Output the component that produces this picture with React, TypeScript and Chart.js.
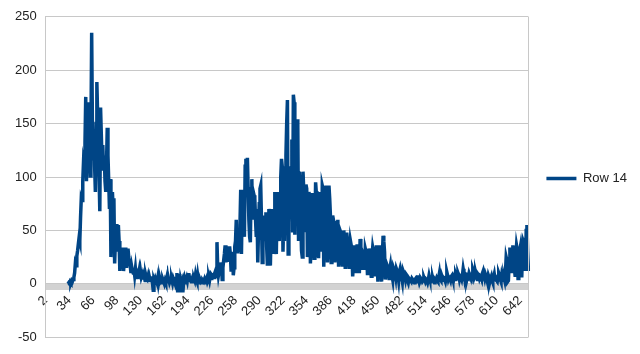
import React, { useEffect, useRef } from 'react';
import { Chart, registerables } from 'chart.js';

Chart.register(...registerables);

const SERIES_NAME = 'Row 14';
const FIRST_CATEGORY = 2;
const LABEL_STEP = 32;
const Y_MIN = -50;
const Y_MAX = 250;
const Y_STEP = 50;

// one value per category, starting at category 2
const values: (number | null)[] = [
  // 2-31: no data
  null, null, null, null, null, null, null, null, null, null,
  null, null, null, null, null, null, null, null, null, null,
  null, null, null, null, null, null, null, null, null, null,
  0, 1, 0, 2, 1, 3, 2,
  4, 6, 10, 19, 17, 26, 31,
  37, 43, 40, 62, 80, 78, 96,
  114, 110, 132, 175, 96, 170, 128,
  165, 120, 101, 140, 235, 150, 117,
  145, 110, 86, 150, 189, 160, 124,
  100, 68, 165, 140, 114, 130, 106,
  120, 96, 86, 110, 146, 120, 96,
  70, 98, 25, 60, 86, 70, 80,
  19, 40, 54, 56, 30, 55, 40,
  12, 25, 34, 20, 34, 12, 20,
  30, 34, 15, 22, 33, 25, 20,
  17, 10, 16, 12, 10, 14, 8,
  14, 6, 11, 9, 8, 12, 5,
  11, 6, 8, 4, 9, 7, 3,
  8, 5, 4, 7, 2, 6, 3,
  7, 3, 1, -6, 4, 2, 5,
  3, 1, 5, 0, 4, 5, 2,
  3, 1, 4, 2, 0, 3, 1,
  5, 8, 2, 4, 1, 3, 2,
  4, 1, 5, 3, 2, 0, 5,
  10, -8, 2, 9, -8, 4, 1,
  3, -8, 2, 5, 1, 4, 6,
  3, 8, 10, 5, 3, 2, 4,
  6, 2, 5, 3, 8, 4, 2,
  8, 3, 1, 4, 2, 3, 1,
  3, 2, 4, 1, 3, 5, 2,
  4, 6, 3, 7, 5, 8, 7,
  8, 6, 10, 12, 7, 39, 15,
  8, 12, 20, 10, 18, 4, 15,
  22, 28, 36, 20, 30, 35, 22,
  25, 35, 28, 13, 20, 30, 8,
  15, 35, 40, 60, 30, 45, 30,
  40, 55, 88, 28, 75, 88, 60,
  44, 110, 117, 100, 118, 90, 60,
  44, 39, 89, 98, 60, 70, 83,
  80, 60, 44, 70, 20, 50, 75,
  89, 92, 60, 20, 55, 64, 40,
  60, 67, 35, 17, 45, 70, 66,
  17, 50, 70, 55, 28, 60, 86,
  33, 28, 70, 86, 60, 40, 80,
  100, 117, 110, 30, 60, 40, 80,
  120, 150, 172, 28, 57, 90, 110,
  90, 135, 48, 177, 170, 46, 110,
  130, 154, 147, 40, 105, 90, 60,
  31, 25, 105, 88, 60, 50, 93,
  89, 25, 70, 86, 80, 19, 40,
  60, 85, 75, 24, 45, 95, 85,
  85, 30, 24, 60, 86, 80, 30,
  92, 89, 16, 50, 70, 92, 60,
  20, 40, 92, 80, 64, 20, 30,
  64, 60, 45, 20, 30, 59, 55,
  60, 16, 35, 50, 48, 30, 16,
  45, 50, 40, 14, 30, 48, 40,
  35, 14, 25, 40, 36, 30, 7,
  20, 36, 30, 20, 10, 37, 30,
  25, 10, 42, 35, 13, 30, 28,
  20, 13, 33, 30, 25, 8, 20,
  33, 28, 15, 7, 25, 34, 30,
  20, 7, 30, 36, 25, 2, 20,
  36, 30, 18, 2, 25, 45, 40,
  30, 4, 15, 18, 16, 10, 5,
  14, 18, 12, 8, 4, 15, 13,
  10, 6, 14, 12, 8, 3, 11,
  14, 10, 6, 2, 12, 10, 7,
  4, 9, 8, 3, 1, 5, 4,
  3, 2, 5, 4, 2, 1, 4,
  5, 3, 2, 8, 4, 1, 3,
  5, 4, 2, 3, 6, 4, 2,
  4, 3, 1, 4, 8, 5, 2,
  4, 3, 5, 2, 1, 4, 3,
  5, 3, 2, 6, 10, 4, 3,
  8, 6, 3, 5, 4, 2, 6,
  11, 8, 4, 6, 5, 3, 7,
  8, 5, 3, 6, 4, 9, 7,
  5, 10, 8, 4, 7, 6, 4,
  8, 14, 10, 5, 9, 8, 4,
  7, 6, 10, 8, 5, 4, 9,
  14, 12, 6, 8, 10, 7, 4,
  9, 8, 5, 7, 6, 4, 10,
  12, 8, 5, 9, 7, 4, 3,
  8, 6, 2, 5, 7, 3, 1,
  6, 9, 4, 8, 3, 2, 7,
  10, 8, 4, 2, 8, 5, 3,
  6, 3, 10, 25, 22, 2, 3,
  20, 34, 28, 10, 25, 36, 30,
  15, 8, 25, 36, 32, 5, 15,
  30, 34, 20, 6, 30, 40, 38,
  43, 12, 50, 55, 30, 12,
];

// category labels 2, 3, 4, ... (one per value)
const categories: string[] = values.map((_, i) => String(FIRST_CATEGORY + i));

const LINE_COLOR = '#004586';
const GRID_COLOR = '#c8c8c8';
const TICK_BAND_COLOR = '#d2d2d2';
const TEXT_COLOR = '#222222';
const FONT = { family: "'Liberation Sans', Arial, sans-serif", size: 13 };

const borderPlugin = {
  id: 'rightBorder',
  afterDraw(chart: any) {
    const { ctx, chartArea } = chart;
    ctx.save();
    ctx.strokeStyle = GRID_COLOR;
    ctx.lineWidth = 1;
    ctx.beginPath();
    ctx.moveTo(Math.round(chartArea.right) + 0.5, chartArea.top);
    ctx.lineTo(Math.round(chartArea.right) + 0.5, chartArea.bottom);
    ctx.stroke();
    ctx.restore();
  },
};

export default function App() {
  const ref = useRef<HTMLCanvasElement | null>(null);

  useEffect(() => {
    if (!ref.current) return;
    const chart = new Chart(ref.current, {
      type: 'line',
      data: {
        labels: categories,
        datasets: [
          {
            label: SERIES_NAME,
            data: values,
            borderColor: LINE_COLOR,
            backgroundColor: LINE_COLOR,
            borderWidth: 3.5,
            pointRadius: 0,
            tension: 0,
            spanGaps: false,
          },
        ],
      },
      options: {
        responsive: false,
        animation: false,
        layout: { padding: { left: 6, right: 3, top: 15, bottom: 12 } },
        plugins: {
          tooltip: { enabled: false },
          legend: {
            position: 'right',
            labels: {
              usePointStyle: true,
              pointStyle: 'line',
              pointStyleWidth: 30,
              boxWidth: 30,
              padding: 18,
              color: TEXT_COLOR,
              font: FONT,
            },
          },
        },
        scales: {
          x: {
            type: 'category',
            position: { y: 0 } as any,
            offset: false,
            afterFit: (scale: any) => {
              scale.paddingLeft = 0;
              scale.paddingRight = 0;
            },
            grid: {
              display: true,
              drawOnChartArea: false,
              drawTicks: true,
              tickLength: 6,
              color: TICK_BAND_COLOR,
            },
            border: { display: true, color: GRID_COLOR },
            ticks: {
              autoSkip: false,
              maxRotation: 45,
              minRotation: 45,
              padding: 3,
              color: TEXT_COLOR,
              font: FONT,
              callback: (_v: any, i: number) => (i % LABEL_STEP === 0 ? categories[i] : ''),
            },
          },
          y: {
            min: Y_MIN,
            max: Y_MAX,
            grid: { color: GRID_COLOR, drawTicks: false },
            border: { display: true, color: GRID_COLOR },
            ticks: { stepSize: Y_STEP, padding: 9, color: TEXT_COLOR, font: FONT },
          },
        },
      },
      plugins: [borderPlugin],
    });
    return () => chart.destroy();
  }, []);

  return (
    <div style={{ position: 'absolute', left: 0, top: 0, width: 640, height: 354, background: '#fff' }}>
      <canvas ref={ref} width={640} height={354} />
    </div>
  );
}
